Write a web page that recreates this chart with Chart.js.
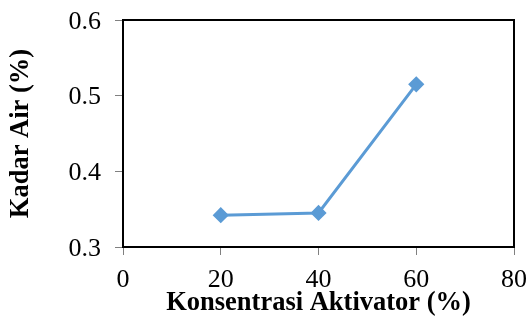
<!DOCTYPE html>
<html lang="en">
  <head>
    <meta charset="UTF-8" />
    <title>Kadar Air</title>
    <script src="https://cdn.jsdelivr.net/npm/chart.js"></script>
    <style>
      html, body { margin: 0; padding: 0; background: #fff; }
      #wrap { width: 529px; height: 317px; }
    </style>
  </head>
  <body>
    <div id="wrap"><canvas id="chart"></canvas></div>
    <script>
      const konsentrasi = [20, 40, 60];
      const kadarAir = [0.342, 0.345, 0.515];
      const xTicks = [0, 20, 40, 60, 80];
      const yTicks = [0.3, 0.4, 0.5, 0.6];

      const points = konsentrasi.map((x, i) => ({ x: x, y: kadarAir[i] }));

      // frame round the plot area
      const frame = {
        id: 'frame',
        afterDraw(chart) {
          const { ctx, chartArea: a } = chart;
          ctx.save();
          ctx.strokeStyle = '#000';
          ctx.lineWidth = 2;
          ctx.strokeRect(a.left, a.top, a.right - a.left, a.bottom - a.top);
          ctx.restore();
        }
      };

      new Chart(document.getElementById('chart'), {
        type: 'scatter',
        data: {
          datasets: [{
            data: points,
            showLine: true,
            borderColor: '#5B9BD5',
            backgroundColor: '#5B9BD5',
            borderWidth: 3,
            pointStyle: 'rectRot',
            pointRadius: 6,
            pointHoverRadius: 6
          }]
        },
        options: {
          responsive: true,
          maintainAspectRatio: false,
          animation: false,
          layout: { padding: { top: 20, right: 15, left: 0, bottom: 0 } },
          plugins: { legend: { display: false }, tooltip: { enabled: false } },
          scales: {
            x: {
              type: 'linear',
              min: 0, max: 80,
              afterBuildTicks: (s) => { s.ticks = xTicks.map(v => ({ value: v })); },
              afterFit: (s) => { s.height = 70; s.paddingLeft = 0; s.paddingRight = 0; },
              grid: { drawOnChartArea: false, drawTicks: true, tickLength: 8, color: '#808080', lineWidth: 1 },
              border: { display: true, color: '#000', width: 2 },
              ticks: { color: '#000', padding: 10, font: { family: 'Liberation Serif', size: 26 } },
              title: {
                display: true, text: 'Konsentrasi Aktivator (%)', color: '#000',
                font: { family: 'Liberation Serif', size: 26.5, weight: 'bold' },
                padding: { top: 0, bottom: -2 }
              }
            },
            y: {
              type: 'linear',
              min: 0.3, max: 0.6,
              afterBuildTicks: (s) => { s.ticks = yTicks.map(v => ({ value: v })); },
              afterFit: (s) => { s.width = 123; s.paddingTop = 0; s.paddingBottom = 0; },
              grid: { drawOnChartArea: false, drawTicks: true, tickLength: 8, color: '#808080', lineWidth: 1 },
              border: { display: true, color: '#000', width: 2 },
              ticks: { color: '#000', padding: 14, labelOffset: 2, font: { family: 'Liberation Serif', size: 26 },
                callback: (v) => v.toFixed(1) },
              title: {
                display: true, text: 'Kadar Air (%)', color: '#000',
                font: { family: 'Liberation Serif', size: 26.5, weight: 'bold' },
                padding: { top: 5, bottom: 0 }
              }
            }
          }
        },
        plugins: [frame]
      });
    </script>
  </body>
</html>
